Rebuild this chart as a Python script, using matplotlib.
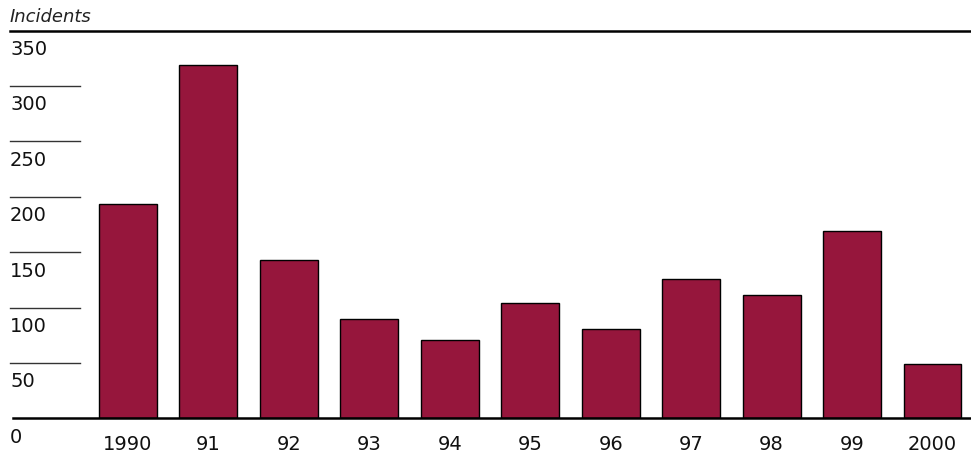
"""Incidents per year, 1990-2000, bar chart"""

import matplotlib
matplotlib.use('Agg')
import matplotlib.pyplot as plt

# data
years = ['1990', '91', '92', '93', '94', '95', '96', '97', '98', '99', '2000']
incidents = [193, 319, 143, 90, 71, 104, 81, 126, 111, 169, 49]
y_ticks = [0, 50, 100, 150, 200, 250, 300, 350]

W, H = 971, 456
bar_color = '#96163c'

fig = plt.figure(figsize=(W/100, H/100), dpi=100)
# axes spans full width; bottom/top chosen so 0 and 350 land on the right pixels
ax = fig.add_axes([0, (H-419.3)/H, 1, (419.3-31.5)/H])

# first bar centre at px 128, spacing ~80.45 px
step = 80.45
ax.set_xlim(-128/step, (W-128)/step)
ax.set_ylim(0, 350)

xs = list(range(len(years)))
ax.bar(xs, incidents, width=0.72, color=bar_color, edgecolor='black',
       linewidth=1.0, zorder=3)

# top rule, baseline, short grid stubs on the left
ax.axhline(350, xmin=10/W, xmax=1, color='black', lw=1.8, clip_on=False)
ax.axhline(0, xmin=13/W, xmax=1, color='black', lw=1.8, zorder=4, clip_on=False)
for v in y_ticks[1:-1]:
    ax.axhline(v, xmin=10/W, xmax=80/W, color='#333333', lw=1.0)

# y labels sit just under their line
for v in y_ticks:
    ax.annotate(str(v), xy=(10/W, v), xycoords=('axes fraction', 'data'),
                xytext=(0, -13), textcoords='offset points',
                ha='left', va='center', fontsize=14, color='#111111')

ax.set_xticks(xs)
ax.set_xticklabels(years, fontsize=14, color='#111111')
ax.tick_params(axis='x', length=0, pad=11.5)
ax.set_yticks([])
for s in ax.spines.values():
    s.set_visible(False)

fig.text(10/W, 1 - 17/H, 'Incidents', ha='left', va='center',
         fontsize=13, style='italic', color='#222222')

fig.savefig('out.png', dpi=100)
